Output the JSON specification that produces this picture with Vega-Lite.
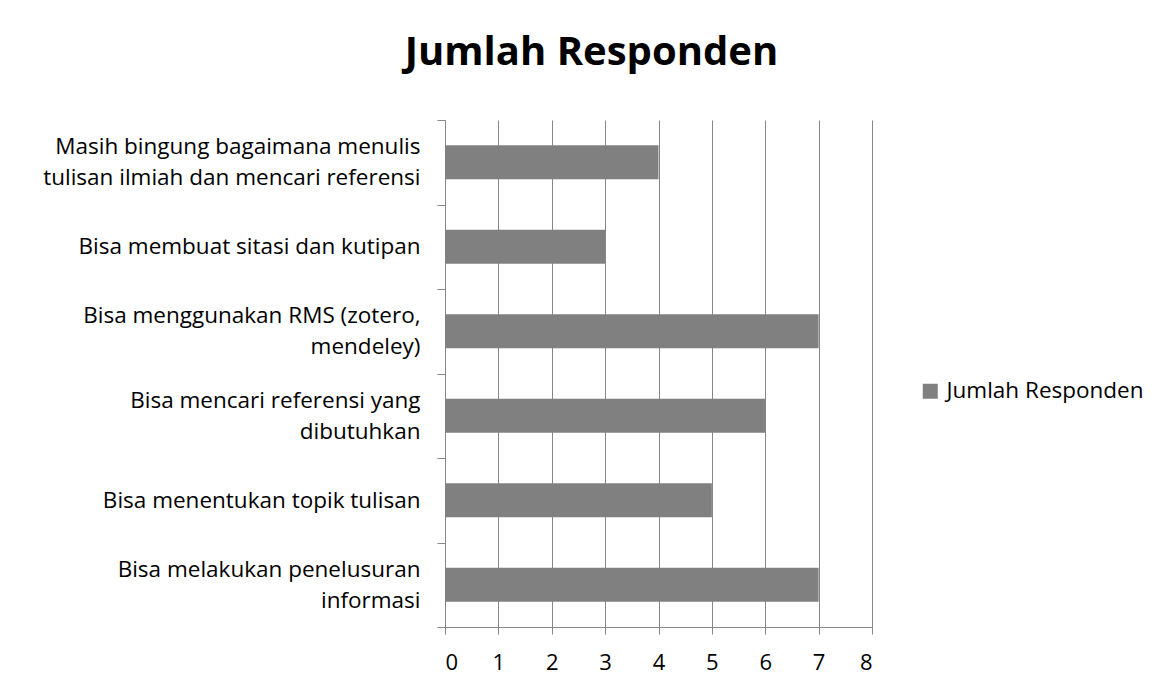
{
  "$schema": "https://vega.github.io/schema/vega-lite/v6.json",
  "width": 427,
  "height": 507,
  "autosize": "none",
  "padding": {"left": 445, "top": 120, "right": 304, "bottom": 59},
  "background": "white",
  "title": {
    "text": "Jumlah Responden",
    "anchor": "middle",
    "font": "Open Sans",
    "fontSize": 40,
    "fontWeight": "bold",
    "color": "black",
    "baseline": "alphabetic",
    "offset": 4,
    "dx": -67
  },
  "data": {
    "values": [
      {"kategori": "Masih bingung bagaimana menulis\ntulisan ilmiah dan mencari  referensi", "jumlah": 4, "seri": "Jumlah Responden"},
      {"kategori": "Bisa membuat sitasi dan kutipan", "jumlah": 3, "seri": "Jumlah Responden"},
      {"kategori": "Bisa menggunakan RMS (zotero,\nmendeley)", "jumlah": 7, "seri": "Jumlah Responden"},
      {"kategori": "Bisa mencari referensi yang\ndibutuhkan", "jumlah": 6, "seri": "Jumlah Responden"},
      {"kategori": "Bisa menentukan topik tulisan", "jumlah": 5, "seri": "Jumlah Responden"},
      {"kategori": "Bisa melakukan penelusuran\ninformasi", "jumlah": 7, "seri": "Jumlah Responden"}
    ]
  },
  "mark": {"type": "bar", "size": 34},
  "encoding": {
    "y": {
      "field": "kategori",
      "type": "nominal",
      "sort": null,
      "scale": {"paddingInner": 0, "paddingOuter": 0},
      "axis": {
        "title": null,
        "labelExpr": "datum.value ? split(datum.value, '\\n') : ''",
        "labelFont": "Open Sans",
        "labelFontSize": 22.5,
        "labelColor": "black",
        "labelLineHeight": 31,
        "labelPadding": 17,
        "labelLimit": 500,
        "labelOffset": {"condition": {"test": "datum.value && indexof(datum.value, '\\n') >= 0", "value": -15.5}, "value": 0},
        "tickBand": "extent",
        "tickSize": 8,
        "tickColor": "#868686",
        "domainColor": "#868686",
        "grid": false
      }
    },
    "x": {
      "field": "jumlah",
      "type": "quantitative",
      "scale": {"domain": [0, 8], "nice": false},
      "axis": {
        "title": null,
        "values": [0, 1, 2, 3, 4, 5, 6, 7, 8],
        "format": "d",
        "labelFont": "Open Sans",
        "labelFontSize": 22,
        "labelColor": "black",
        "labelPadding": 18,
        "tickSize": 7,
        "tickColor": "#868686",
        "domainColor": "#868686",
        "grid": true,
        "gridColor": "#868686",
        "gridOpacity": 1
      }
    },
    "color": {
      "field": "seri",
      "type": "nominal",
      "scale": {"range": ["#808080"]},
      "legend": {
        "title": null,
        "orient": "none",
        "legendX": 474,
        "legendY": 260,
        "symbolType": "square",
        "symbolSize": 225,
        "symbolStrokeWidth": 0,
        "labelFont": "Open Sans",
        "labelFontSize": 22.5,
        "labelColor": "black",
        "labelLimit": 400,
        "labelOffset": 5
      }
    }
  },
  "config": {
    "view": {"stroke": null}
  }
}
